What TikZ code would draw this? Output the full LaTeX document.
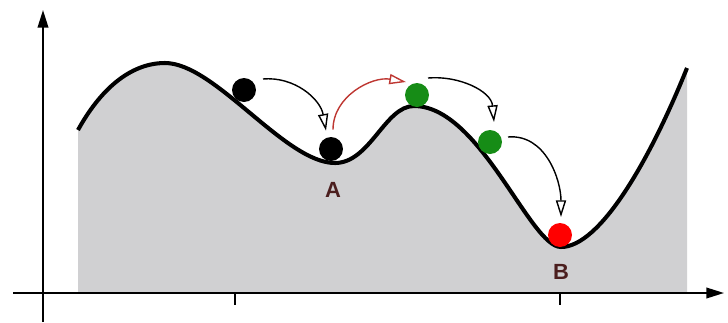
\documentclass[tikz,border=0pt]{standalone}
\usepackage{fontspec}
\setsansfont{Liberation Sans}
\usetikzlibrary{arrows.meta}
\definecolor{hillgray}{RGB}{208,208,210}
\definecolor{jumpred}{RGB}{190,55,50}
\definecolor{ballgreen}{RGB}{22,140,22}
\definecolor{labelbrown}{RGB}{75,30,30}
\begin{document}
\begin{tikzpicture}[x=0.02cm, y=-0.02cm, font=\sffamily\bfseries\fontsize{12.5}{14}\selectfont,
		ball/.style={circle, inner sep=0pt, minimum size=0.48cm},
		fall/.style={-{Triangle[open, length=9.5pt, width=5.8pt]}, line width=0.8pt},
		axis/.style={-{Triangle[length=10pt, width=6pt]}, line width=1.1pt}]
		\useasboundingbox (0,0) rectangle (728,322);
		% ground under the profile
		\fill[hillgray] (78,130) .. controls (100,90) and (130,63) .. (165,63)
			.. controls (215,63) and (285,163) .. (335,163)
			.. controls (370,163) and (385,106) .. (414,106)
			.. controls (480,106) and (530,247) .. (561,247)
			.. controls (600,247) and (650,160) .. (687,68)
			-- (687,293) -- (78,293) -- cycle;
		% axes and ticks
		\draw[axis] (43,322) -- (43,10);
		\draw[axis] (13,293) -- (724,293);
		\foreach \t in {235,560}{ \draw[line width=0.9pt] (\t,293) -- (\t,305); }
		% the profile itself
		\draw[line width=2.3pt] (78,130) .. controls (100,90) and (130,63) .. (165,63)
			.. controls (215,63) and (285,163) .. (335,163)
			.. controls (370,163) and (385,106) .. (414,106)
			.. controls (480,106) and (530,247) .. (561,247)
			.. controls (600,247) and (650,160) .. (687,68);
		% balls
		\node[ball, fill=black] (b1) at (244,90) {};
		\node[ball, fill=black] (bA) at (331,149) {};
		\node[ball, fill=ballgreen] (g1) at (417,95) {};
		\node[ball, fill=ballgreen] (g2) at (490,142) {};
		\node[ball, fill=red] (bB) at (560,235) {};
		\node[labelbrown] (lA) at (333,190) {A};
		\node[labelbrown] (lB) at (561,272) {B};
		% moves between states
		\draw[fall] ([shift={(19,-11)}]b1.center) to[out=5, in=100] ([shift={(-5,-6)}]bA.north);
		\draw[fall, jumpred] ([shift={(2,-7)}]bA.north) to[out=90, in=170] ([shift={(-11,-13)}]g1.center);
		\draw[fall] ([shift={(11,-17)}]g1.center) to[out=5, in=95] ([shift={(4,-20)}]g2.center);
		\draw[fall] ([shift={(18,-5)}]g2.center) to[out=5, in=90] ([shift={(1,-18)}]bB.center);
	\end{tikzpicture}
\end{document}
